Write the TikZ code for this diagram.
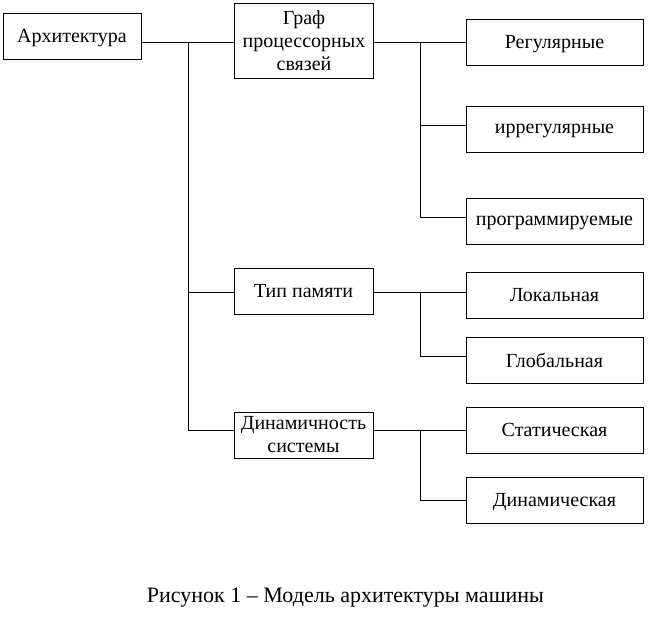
\documentclass[tikz,border=0pt]{standalone}
\usepackage{fontspec}
\setmainfont{Liberation Serif}
\begin{document}
\begin{tikzpicture}[x=1pt,y=-1pt,
  box/.style={draw,line width=1pt,minimum height=46pt,inner sep=1pt,font=\fontsize{20}{23}\selectfont,align=center},
  one/.style={text depth=0.5pt},
  mid/.style={box,minimum width=139pt},
  leaf/.style={box,one,minimum width=177pt},
  conn/.style={line width=1pt}]
\useasboundingbox (0,0) rectangle (656,619);
\node[box,one,minimum width=138pt] (arch) at (72,36) {Архитектура};
\node[mid,minimum height=75pt] (graf) at (304,40.5) {Граф\\процессорных\\связей};
\node[mid,one] (tip) at (303.5,291) {Тип памяти};
\node[mid] (dyn) at (303.5,435) {Динамичность\\системы};
\node[leaf] (reg) at (554.5,42) {Регулярные};
\node[leaf] (irr) at (554.5,129.5) {иррегулярные};
\node[leaf] (prog) at (554.5,221.5) {программируемые};
\node[leaf] (lok) at (554.5,295.5) {Локальная};
\node[leaf] (glob) at (554.5,360.5) {Глобальная};
\node[leaf] (stat) at (554.5,430) {Статическая};
\node[leaf] (dynch) at (554.5,500) {Динамическая};
\node[font=\fontsize{22}{26}\selectfont] (cap) at (345.5,598) {Рисунок 1 – Модель архитектуры машины};
\coordinate (t1) at (188,42);
\coordinate (t2) at (188,430);
\coordinate (b1) at (420,42);
\coordinate (b2) at (420,292);
\coordinate (b3) at (420,430);
% trunk
\draw[conn] (arch.east |- t1) -- (graf.west |- t1);
\draw[conn] (t1) -- (t2) -- (dyn.west |- t2);
\draw[conn] (188,292) -- (tip.west |- b2);
% graph branch
\draw[conn] (graf.east |- b1) -- (reg.west |- b1);
\draw[conn] (b1) |- (irr.west |- 0,125);
\draw[conn] (420,125) |- (prog.west |- 0,217);
% memory branch
\draw[conn] (tip.east |- b2) -- (lok.west |- b2);
\draw[conn] (b2) |- (glob.west |- 0,356);
% dynamics branch
\draw[conn] (dyn.east |- b3) -- (stat.west |- b3);
\draw[conn] (b3) |- (dynch.west |- 0,500);
\end{tikzpicture}
\end{document}
